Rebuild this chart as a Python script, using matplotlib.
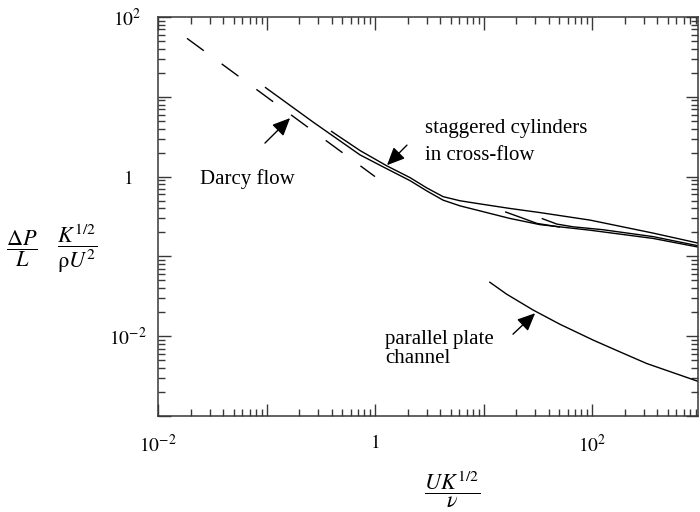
import numpy as np
import matplotlib
matplotlib.use('Agg')
import matplotlib.pyplot as plt
from matplotlib.ticker import FixedLocator, FuncFormatter, NullFormatter

plt.rcParams['font.family'] = ['Liberation Serif', 'DejaVu Serif']
plt.rcParams['mathtext.fontset'] = 'stix'

# ---- data ----
darcy_x = [0.0185, 1.0]
darcy_y = [54.0, 1.0]

cyl_upper_x = [0.393, 0.728, 1.29, 2.10, 3.01, 4.24, 6.07, 8.71, 17.5, 33.2, 95.9, 365, 948]
cyl_upper_y = [3.72, 2.12, 1.36, 0.972, 0.72, 0.561, 0.498, 0.461, 0.399, 0.354, 0.285, 0.196, 0.147]

cyl_lower_x = [0.0968, 0.269, 0.728, 1.29, 2.10, 3.01, 4.24, 6.07, 8.71, 17.5, 33.2, 95.9, 365, 948]
cyl_lower_y = [13.2, 4.82, 1.87, 1.25, 0.891, 0.66, 0.507, 0.430, 0.380, 0.299, 0.250, 0.213, 0.168, 0.131]

cyl_c_x = [15.8, 21.7, 31.1, 50.7]
cyl_c_y = [0.362, 0.310, 0.259, 0.233]

cyl_d_x = [34.4, 47.5, 66.8, 126, 365, 948]
cyl_d_y = [0.299, 0.254, 0.235, 0.216, 0.177, 0.136]

plate_x = [11.3, 16.3, 28.8, 50.7, 103, 181, 319, 986]
plate_y = [0.048, 0.0337, 0.0212, 0.0141, 0.00891, 0.00636, 0.00455, 0.00267]

labeled_exponents = [-2, 0, 2]
decades = [-3, -2, -1, 0, 1, 2, 3]

# ---- figure ----
W, H = 700, 512
fig = plt.figure(figsize=(W / 100, H / 100), dpi=100)
ax = fig.add_axes([158 / W, 1 - 416 / H, 540 / W, 399 / H])
ax.set_xscale('log')
ax.set_yscale('log')
ax.set_xlim(1e-2, 10 ** (-2 + 540 / 108.5))
ax.set_ylim(1e-3, 1e2)

lw = 1.0
ln, = ax.plot(darcy_x, darcy_y, color='black', lw=lw)
ln.set_dashes([15, 16])
for xs, ys in [(cyl_upper_x, cyl_upper_y), (cyl_lower_x, cyl_lower_y),
               (cyl_c_x, cyl_c_y), (cyl_d_x, cyl_d_y), (plate_x, plate_y)]:
    ax.plot(xs, ys, color='black', lw=lw, solid_capstyle='butt', solid_joinstyle='round')

# ticks
def fmt(v, pos):
    e = int(round(np.log10(v)))
    if e not in labeled_exponents:
        return ''
    if e == 0:
        return '$1$'
    return r'$10^{%d}$' % e

major_locs = [10.0 ** e for e in decades]
minor_locs = [m * 10.0 ** e for e in decades for m in range(2, 10)]
for axis in (ax.xaxis, ax.yaxis):
    axis.set_major_locator(FixedLocator(major_locs))
    axis.set_minor_locator(FixedLocator(minor_locs))
    axis.set_major_formatter(FuncFormatter(fmt))
    axis.set_minor_formatter(NullFormatter())

spc = '#383838'
for s in ax.spines.values():
    s.set_color(spc)
    s.set_linewidth(1.1)
ax.tick_params(which='both', direction='in', top=True, right=True, color=spc, width=1.0)
ax.tick_params(which='major', length=9)
ax.tick_params(which='minor', length=5)
ax.tick_params(axis='x', which='major', pad=13, labelsize=14)
ax.tick_params(axis='y', which='major', pad=22, labelsize=14)

# annotations
fs = 15
akw = dict(arrowstyle='-|>,head_length=0.6,head_width=0.27', color='black', lw=1.0,
           shrinkA=0, shrinkB=0, mutation_scale=18)
ax.annotate('', xy=(0.165, 5.41), xytext=(0.0968, 2.63), arrowprops=akw)
ax.text(0.0244, 0.93, 'Darcy flow', fontsize=fs, va='center', ha='left')

ax.annotate('', xy=(1.29, 1.39), xytext=(1.97, 2.48), arrowprops=akw)
ax.text(2.89, 10 ** (2 - 111 / 79.75), 'staggered cylinders', fontsize=fs, va='center', ha='left')
ax.text(2.89, 10 ** (2 - 138 / 79.75), 'in cross-flow', fontsize=fs, va='center', ha='left')

ax.annotate('', xy=(29.9, 0.0194), xytext=(18.7, 0.0106), arrowprops=akw)
ax.text(1.24, 10 ** (2 - 322 / 79.75), 'parallel plate', fontsize=fs, va='center', ha='left')
ax.text(1.24, 10 ** (2 - 341 / 79.75), 'channel', fontsize=fs, va='center', ha='left')

# axis titles
fig.text(22 / W, 1 - 249 / H, r'$\dfrac{\Delta P}{L}$', fontsize=16, ha='center', va='center')
fig.text(77 / W, 1 - 249 / H, r'$\dfrac{K^{1/2}}{\mathrm{\rho} U^2}$', fontsize=16, ha='center', va='center')
fig.text(452 / W, 1 - 490 / H, r'$\dfrac{UK^{1/2}}{\nu}$', fontsize=16, ha='center', va='center')

fig.canvas.draw()
for t in ax.yaxis.get_majorticklabels():
    t.set_horizontalalignment('center')

fig.savefig('out.png', dpi=100)
